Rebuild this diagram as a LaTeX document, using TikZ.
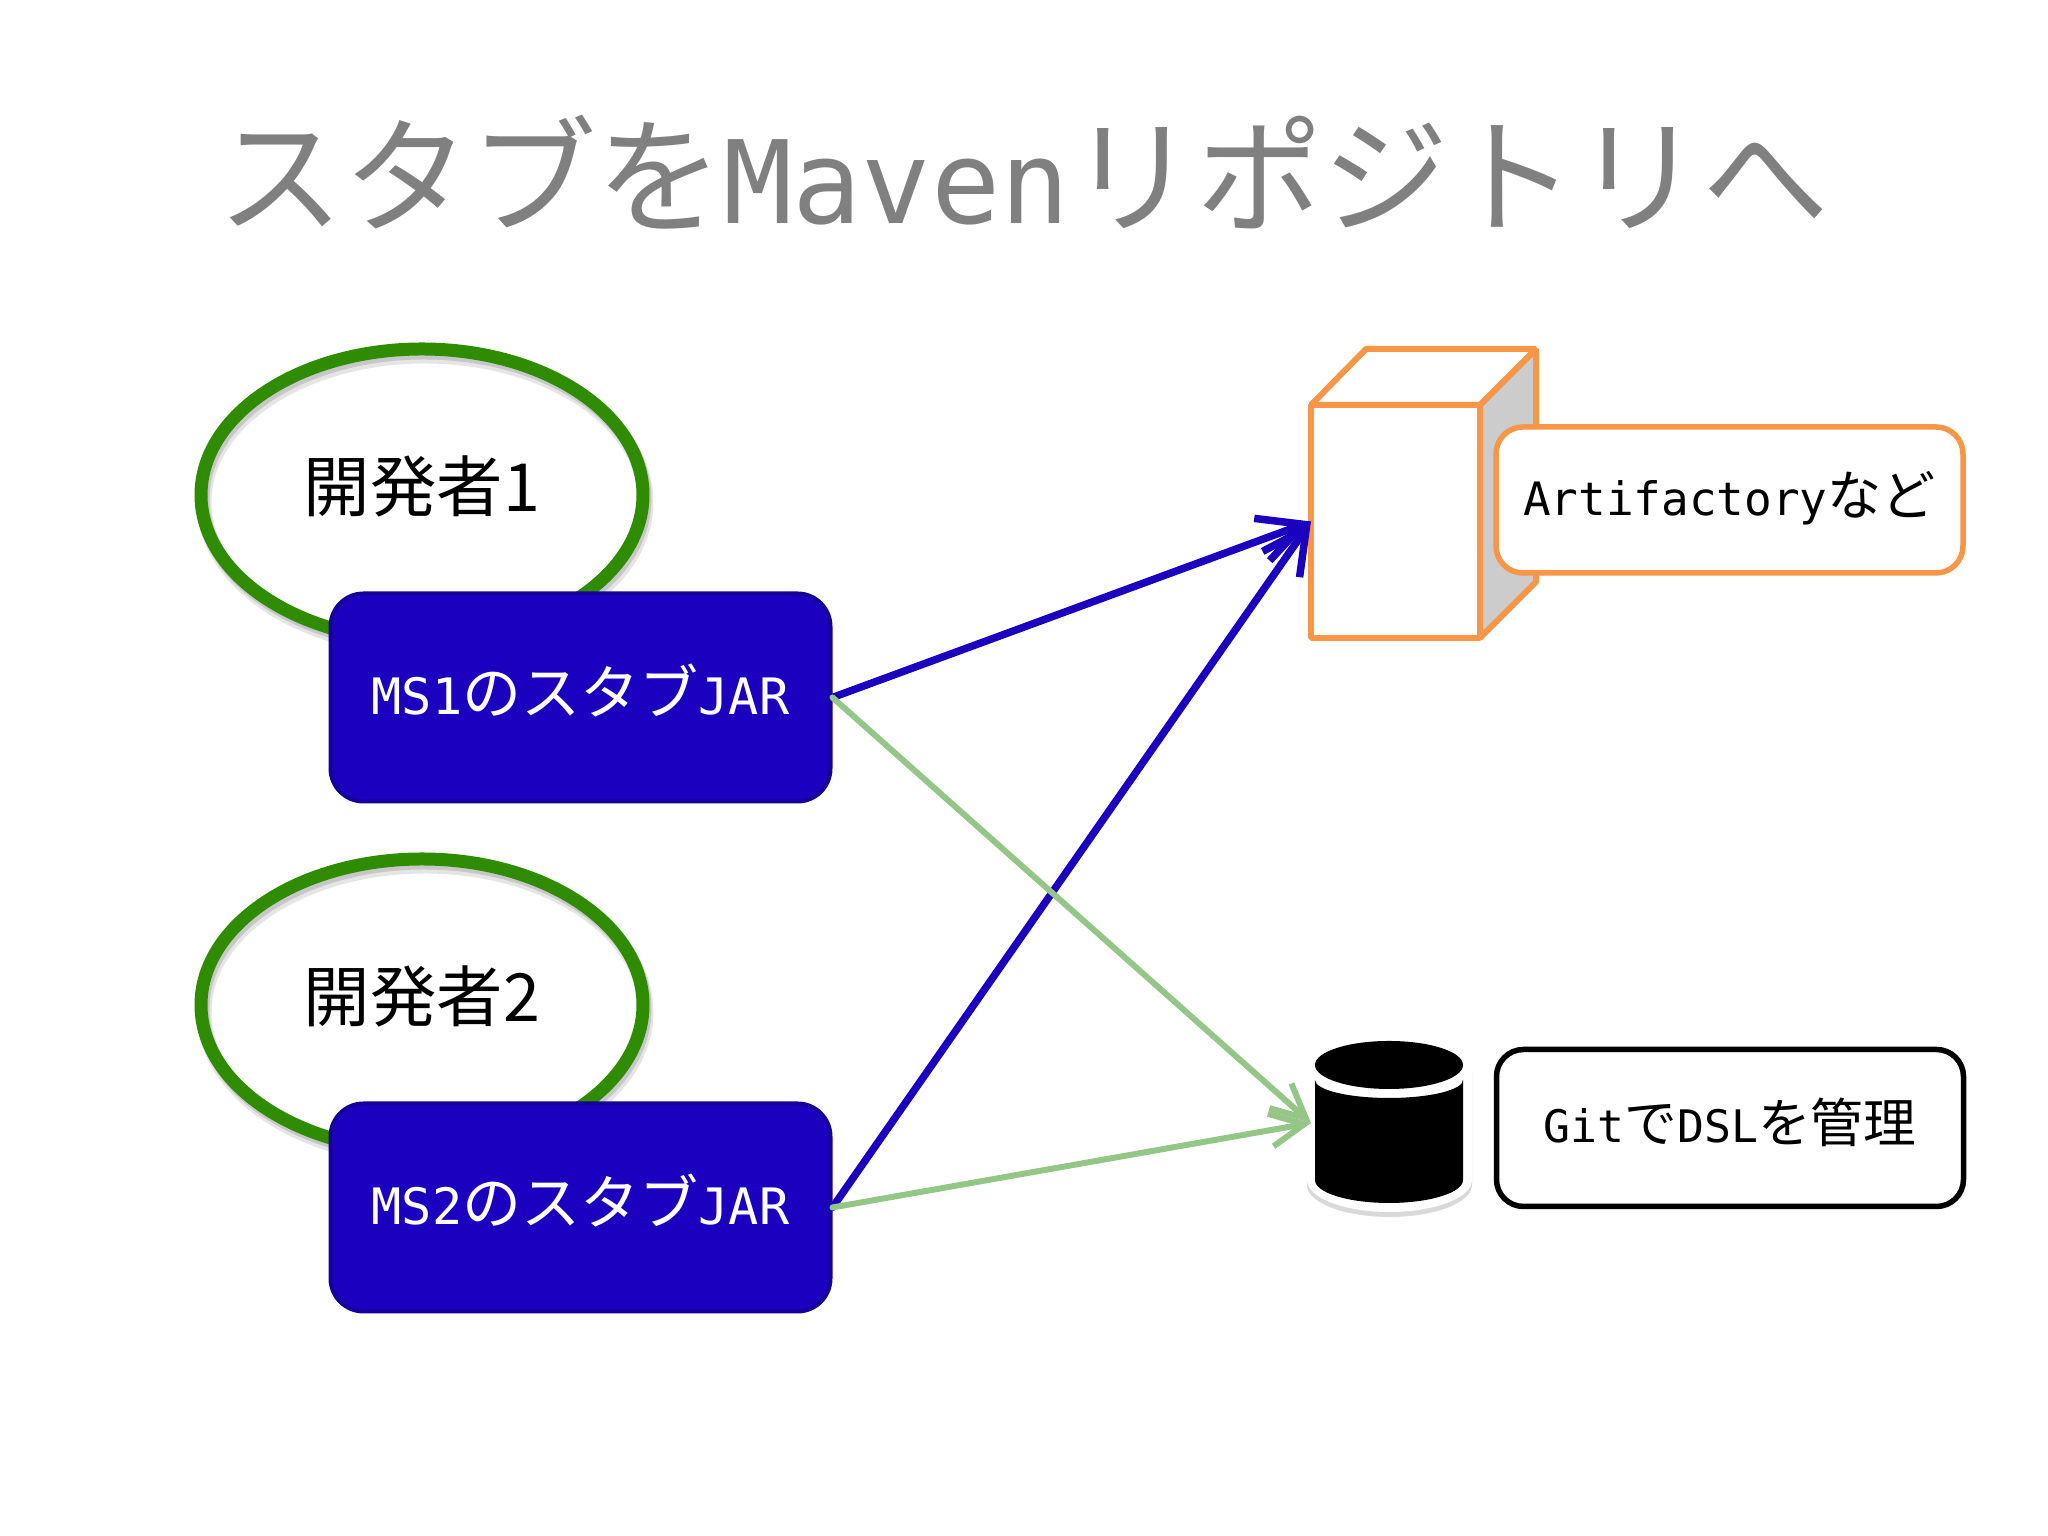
\documentclass[tikz,border=0pt]{standalone}
\usepackage{fontspec}
\usetikzlibrary{arrows.meta,shapes.geometric,shadows}
\newfontfamily\jpfont{Noto Sans CJK JP}
\newfontfamily\latfont[Scale=0.85]{DejaVu Sans Mono}
\newfontfamily\latfontb[Scale=0.91]{DejaVu Sans Mono}
\definecolor{msblue}{HTML}{1C00C0}
\definecolor{devgreen}{HTML}{2F8C00}
\definecolor{boxorange}{HTML}{F79646}
\definecolor{linkgreen}{HTML}{94C688}
\tikzstyle{heading} = [text = black!50, font = \jpfont\fontsize{36pt}{40pt}\selectfont]
\tikzstyle{dev} = [ellipse, draw = devgreen, line width = 1.3mm, minimum width = 4.42cm, minimum height = 2.92cm, inner sep = 0pt, text height = 4.5mm, text depth = 1.1mm, font = \jpfont\fontsize{18.9pt}{22pt}\selectfont, preaction = {fill = white}, preaction = {draw = black!10, line width = 1.5mm, transform canvas = {xshift = 0.3mm, yshift = -0.7mm}}, preaction = {draw = black!22, line width = 1.3mm, transform canvas = {xshift = 0.2mm, yshift = -0.4mm}}]
\tikzstyle{jar} = [rectangle, rounded corners = 3.3mm, fill = msblue, draw = msblue!80!black, line width = 0.4mm, minimum width = 5.0cm, minimum height = 2.08cm, text = white, text height = 4.5mm, text depth = 1mm, font = \jpfont\fontsize{16.8pt}{20pt}\selectfont]
\tikzstyle{note} = [rectangle, rounded corners = 2.7mm, fill = white, line width = 0.55mm, minimum width = 4.67cm, font = \jpfont\fontsize{15.4pt}{18pt}\selectfont]
\tikzstyle{server} = [line width = 0.6mm, draw = boxorange, line join = bevel]
\tikzstyle{arrow} = [line width = 0.75mm, draw = msblue, line cap = round, -{Straight Barb[length = 4.4mm, width = 4.5mm]}]
\tikzstyle{arrow1} = [line width = 0.6mm, draw = linkgreen, line cap = round, -{Straight Barb[length = 3.4mm, width = 3.3mm]}]

\begin{document}
\begin{tikzpicture}
    \useasboundingbox (0, 0) rectangle (20.48, 15.36);
    \node(title)[heading] at (10.23, 13.64) {スタブを{\latfontb Maven}リポジトリへ};

    \node(dev1)[dev] at (4.22, 10.41) {開発者1};
    \node(dev2)[dev] at (4.22, 5.31) {開発者2};
    \node(jar1)[jar] at (5.805, 8.385) {{\latfont MS1}のスタブ{\latfont JAR}};
    \node(jar2)[jar] at (5.805, 3.285) {{\latfont MS2}のスタブ{\latfont JAR}};

    % server box
    \node(front)[server, fill = white, rectangle, minimum width = 1.69cm, minimum height = 2.33cm, outer sep = 0pt] at (13.955, 10.145) {};
    \draw[server, fill = black!20] (front.north east) -- ++(0.56, 0.56) -- ++(0, -2.33) -- (front.south east) -- cycle;
    \draw[server, fill = white] (front.north west) -- ++(0.55, 0.56) -- ++(1.70, 0) -- (front.north east) -- cycle;
    \node(artifactory)[note, draw = boxorange, minimum height = 1.46cm, text height = 4.2mm, text depth = 1mm] at (17.295, 10.36) {{\latfont Artifactory}など};

    % git store
    \node(store)[minimum width = 1.56cm, minimum height = 1.7cm, inner sep = 0pt, outer sep = 0pt] at (13.89, 4.13) {};
    \fill[white, drop shadow = {shadow xshift = 0pt, shadow yshift = -0.5mm, opacity = 0.3}] (13.07, 4.71) arc[start angle = 180, end angle = 0, x radius = 0.825, y radius = 0.32] -- (14.72, 3.56) arc[start angle = 0, end angle = -180, x radius = 0.825, y radius = 0.32] -- cycle;
    \fill[black] (13.89, 4.71) ellipse[x radius = 0.74, y radius = 0.24];
    \fill[black] (13.15, 4.56) arc[start angle = 180, end angle = 360, x radius = 0.74, y radius = 0.18] -- (14.63, 3.56) arc[start angle = 0, end angle = -180, x radius = 0.74, y radius = 0.23] -- cycle;
    \node(git)[note, draw = black, minimum height = 1.57cm, text height = 4mm, text depth = 1mm, font = \jpfont\fontsize{15pt}{18pt}\selectfont] at (17.30, 4.08) {{\latfont Git}で{\latfont DSL}を管理};

    \draw[arrow] (jar1.east) -- (front.west);
    \draw[arrow] (jar2.east) -- (front.west);
    \draw[arrow1] (jar1.east) -- (store.west);
    \draw[arrow1] (jar2.east) -- (store.west);
\end{tikzpicture}
\end{document}
